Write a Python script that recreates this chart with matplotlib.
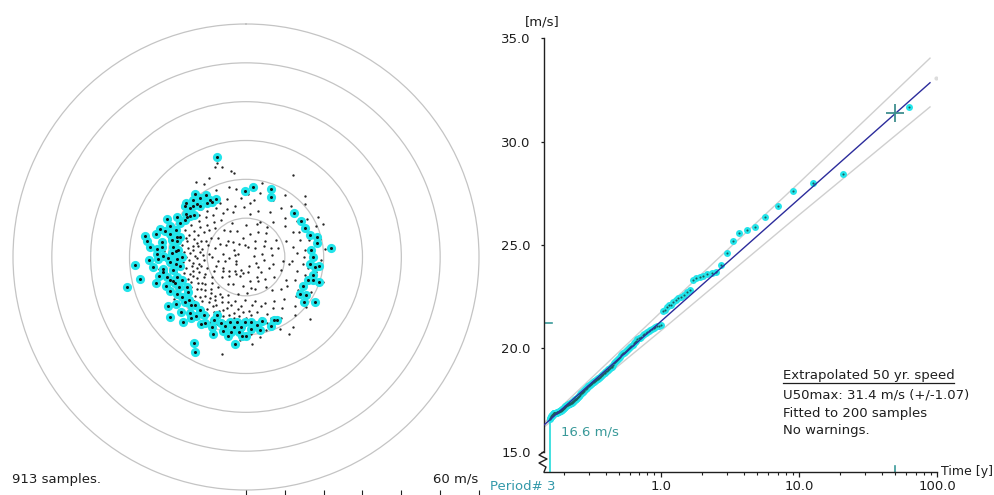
import numpy as np
import matplotlib
matplotlib.use("Agg")
import matplotlib.pyplot as plt
from matplotlib.lines import Line2D

plt.rcParams['font.family'] = ['DejaVu Sans']
plt.rcParams['font.size'] = 9.5

W, H = 995, 495
TXT = '#1e1e1e'
TEAL = '#3a9a9a'
CYAN = '#22e4ea'

# --- 1. POLAR SCATTER DATA: (direction deg from north, speed m/s) ---
sample_points = [
    # N
    (350, 22.5), (352, 21.8), (346, 18.5), (355, 15.2), (2, 16.3), (8, 14.8), (12, 19.5), (15, 12.2),
    (5, 11.0), (358, 12.8), (348, 13.5), (342, 15.8), (338, 9.5), (0, 8.2), (18, 8.8), (10, 6.0),
    (350, 5.0), (344, 12.0), (12, 16.8), (4, 13.9), (352, 17.6), (341, 24.6), (343, 25.4), (30, 24.3),
    (335, 22.4), (345, 24.1),
    # NE
    (25, 16.2), (28, 13.0), (32, 18.8), (35, 15.5), (38, 11.5), (42, 17.5), (45, 14.2), (48, 20.3),
    (52, 12.8), (55, 16.0), (58, 18.6), (62, 13.8), (65, 15.2), (68, 11.2), (22, 9.6), (40, 8.2),
    (50, 6.5), (60, 9.0), (30, 4.8), (66, 19.8), (44, 22.0), (61, 21.2), (67, 21.6),
    # E
    (72, 14.5), (75, 16.8), (78, 12.5), (80, 18.0), (83, 15.3), (85, 13.2), (88, 17.5), (90, 15.0),
    (92, 19.2), (95, 12.0), (97, 14.8), (100, 16.2), (102, 18.5), (105, 13.5), (107, 15.8), (108, 20.8),
    (74, 8.5), (86, 6.8), (96, 9.5), (104, 7.2), (80, 4.2), (93, 16.8), (99, 11.2), (76, 19.6), (84, 20.5),
    # SE
    (112, 17.2), (115, 14.0), (118, 19.0), (120, 11.8), (122, 15.8), (125, 13.0), (128, 16.5), (130, 20.2),
    (132, 12.2), (135, 17.8), (138, 14.6), (140, 19.5), (142, 10.8), (145, 16.0), (148, 13.5), (150, 18.0),
    (152, 15.0), (155, 20.5), (157, 12.8), (158, 17.0), (116, 6.5), (126, 8.8), (136, 5.5), (146, 9.2),
    (154, 7.0), (134, 22.8), (146, 21.6), (151, 22.7),
    # S
    (160, 15.5), (162, 17.8), (163, 13.2), (165, 19.5), (166, 16.2), (168, 11.5), (169, 14.5), (170, 18.2),
    (172, 16.8), (173, 12.5), (175, 15.0), (176, 19.8), (177, 13.8), (178, 17.2), (180, 15.8), (181, 11.0),
    (182, 18.5), (183, 14.2), (184, 16.5), (185, 20.2), (186, 12.8), (187, 15.2), (188, 17.5), (189, 13.5),
    (190, 19.0), (191, 16.0), (192, 14.8), (193, 18.0), (194, 11.8), (195, 16.8), (196, 15.5), (197, 13.0),
    (198, 17.6), (199, 19.5), (200, 14.0), (164, 8.5), (171, 6.2), (178, 9.2), (186, 7.5), (192, 9.8),
    (198, 5.2), (174, 3.8), (184, 21.5), (170, 21.0), (194, 25.8), (176, 22.5),
    # SW
    (201, 16.2), (202, 12.5), (203, 18.8), (204, 14.8), (205, 17.0), (206, 10.8), (207, 15.5), (208, 13.2),
    (209, 19.2), (210, 16.5), (211, 12.0), (212, 14.5), (213, 17.8), (214, 15.2), (215, 11.5), (216, 13.8),
    (217, 16.8), (218, 18.5), (219, 12.8), (220, 15.0), (221, 14.0), (222, 17.2), (223, 10.5), (224, 13.0),
    (225, 16.0), (226, 18.2), (227, 14.6), (228, 12.2), (229, 15.8), (230, 17.5), (231, 13.5), (232, 11.0),
    (233, 16.5), (234, 14.2), (235, 18.8), (236, 12.6), (237, 15.0), (238, 17.0), (239, 13.2), (240, 10.2),
    (241, 16.2), (242, 14.0), (243, 18.0), (244, 12.0), (245, 15.5), (246, 17.2), (247, 13.6), (248, 11.4),
    (249, 16.0), (250, 14.5), (206, 7.8), (214, 8.5), (222, 6.5), (230, 8.2), (238, 7.0), (246, 9.0),
    (218, 4.5), (236, 3.2), (212, 21.0), (226, 20.8), (240, 21.5), (204, 20.5),
    # W
    (251, 17.8), (252, 12.8), (253, 15.2), (254, 10.5), (255, 14.0), (256, 16.5), (257, 13.0), (258, 18.5),
    (259, 11.8), (260, 15.8), (261, 14.2), (262, 12.2), (263, 17.0), (264, 13.6), (265, 16.2), (266, 10.8),
    (267, 14.8), (268, 18.2), (269, 12.5), (270, 15.5), (271, 13.2), (272, 17.2), (273, 11.2), (274, 14.5),
    (275, 16.0), (276, 12.0), (277, 18.8), (278, 13.8), (279, 15.0), (280, 11.5), (281, 16.8), (282, 14.0),
    (283, 12.8), (284, 17.5), (285, 15.6), (286, 13.0), (287, 10.2), (288, 16.2), (289, 14.2), (290, 12.4),
    (254, 8.0), (262, 7.2), (270, 8.8), (278, 6.0), (286, 8.4), (266, 4.5), (258, 20.8), (274, 21.2),
    (284, 20.5), (262, 22.5),
    # NW
    (291, 15.8), (292, 11.0), (294, 17.2), (295, 13.5), (297, 15.0), (298, 10.2), (300, 16.5), (301, 12.5),
    (303, 14.2), (305, 17.8), (306, 11.8), (308, 15.2), (310, 13.0), (312, 16.2), (313, 10.8), (315, 14.5),
    (317, 17.0), (318, 12.2), (320, 15.5), (322, 13.6), (324, 18.5), (326, 11.5), (328, 14.8), (330, 16.8),
    (332, 12.8), (334, 15.5), (336, 19.0), (338, 13.2), (296, 7.5), (304, 8.8), (312, 6.2), (320, 9.0),
    (328, 7.8), (300, 3.5), (316, 20.5), (308, 21.0), (330, 21.8), (326, 23.2),
    # light winds
    (10, 2.5), (45, 3.2), (80, 2.0), (120, 3.0), (160, 2.4), (200, 3.5), (250, 2.8), (290, 2.2),
    (330, 3.8), (60, 5.5), (100, 4.8), (140, 7.5), (190, 4.2), (230, 5.8), (280, 3.0), (320, 5.2),
    (25, 7.2), (70, 6.8), (110, 9.5), (170, 8.0), (210, 5.0), (260, 5.5), (300, 6.0), (340, 7.0),
    (355, 3.0), (35, 9.5), (130, 4.0), (150, 5.8), (245, 6.5), (275, 9.6),
]

storm_points = [
    (344, 26.9), (359, 17.1), (6, 18.2), (20, 18.5), (23, 16.8), (47, 16.8), (57, 16.8), (64, 16.9),
    (71, 17.3), (74, 18.9), (79, 18.7), (84, 22.0), (84, 16.8), (90, 17.2), (96, 16.6), (98, 17.9),
    (97, 19.0), (105, 17.8), (110, 17.1), (109, 18.3), (109, 19.9), (117, 16.6), (124, 16.9), (122, 18.3),
    (128, 18.9), (123, 21.1), (154, 18.0), (156, 17.8),
    (166, 17.1), (171, 17.7), (176, 16.7), (181, 16.7), (184, 18.0), (188, 16.8), (190, 18.2), (191, 19.6),
    (193, 21.0), (187, 22.6), (183, 20.5), (180, 20.4), (185, 19.3), (197, 18.7), (201, 18.3), (207, 18.3),
    (207, 16.7), (206, 20.0), (212, 20.1), (216, 18.5), (221, 18.1), (227, 18.0), (229, 18.7), (225, 20.5),
    (220, 19.9), (233, 18.5), (224, 23.2), (211, 25.8), (208, 27.8),
    (238, 23.6), (232, 24.9), (254, 24.0), (258, 27.8), (266, 28.6), (256, 31.7), (264, 24.0), (269, 22.6),
    (271, 21.3), (269, 20.0), (273, 19.2), (275, 23.1), (277, 21.9), (276, 24.9), (282, 26.6), (279, 25.9),
    (288, 23.3), (288, 22.0), (287, 20.5), (283, 19.6), (278, 18.9), (283, 18.3), (287, 17.8), (291, 19.2),
    (297, 19.1), (301, 18.4), (306, 19.0), (311, 19.1), (310, 20.4), (317, 20.0), (321, 21.0), (322, 19.2),
    (327, 19.1), (324, 17.1), (328, 17.4), (333, 16.9), (328, 16.7), (317, 18.5), (309, 17.3), (306, 17.8),
    (276, 17.5), (270, 16.6), (268, 17.9), (262, 17.2), (260, 19.0), (254, 18.6), (250, 17.6), (246, 19.0),
    (242, 20.2), (238, 19.5), (234, 19.5), (243, 17.1), (239, 17.3), (256, 21.0), (260, 21.6), (253, 20.5),
    (250, 19.5),
    (262, 21.5), (266, 19.5), (272, 23.0), (280, 22.0), (284, 24.0), (268, 25.0), (258, 23.0), (250, 22.0),
    (246, 21.5), (252, 19.8), (264, 18.2), (275, 18.0), (286, 18.5), (292, 21.0), (296, 22.5), (300, 20.5),
    (304, 18.2), (314, 18.8), (318, 17.8), (312, 20.8), (236, 21.8), (230, 22.0), (222, 21.0), (214, 20.8),
    (203, 21.5), (197, 20.0), (194, 17.2), (176, 18.5), (169, 19.2), (160, 18.8),
]

ring_speeds = [10, 20, 30, 40, 50]
scale_speeds = [0, 10, 20, 30, 40, 50, 60]
max_ring = 60
n_samples = 913

# --- 2. EXTREME VALUE DATA (200 storm peaks, largest first) ---
storm_speeds = [
    31.66, 28.44, 27.98, 27.63, 26.90, 26.37, 25.89, 25.73, 25.60, 25.21,
    24.60, 24.03, 23.71, 23.66, 23.58, 23.52, 23.47, 23.39, 23.31, 22.82,
    22.74, 22.58, 22.50, 22.45, 22.34, 22.22, 22.10, 22.08, 22.02, 21.85,
    21.80, 21.13, 21.10, 21.06, 21.02, 20.97, 20.93, 20.88, 20.84, 20.78,
    20.74, 20.69, 20.63, 20.57, 20.52, 20.48, 20.43, 20.38, 20.30, 20.25,
    20.18, 20.12, 20.06, 20.00, 19.96, 19.92, 19.88, 19.84, 19.80, 19.76,
    19.72, 19.68, 19.60, 19.55, 19.50, 19.45, 19.40, 19.35, 19.28, 19.22,
    19.16, 19.11, 19.08, 19.05, 19.02, 18.99, 18.96, 18.93, 18.90, 18.86,
    18.83, 18.80, 18.76, 18.73, 18.70, 18.66, 18.63, 18.60, 18.58, 18.56,
    18.53, 18.51, 18.48, 18.46, 18.44, 18.41, 18.38, 18.36, 18.33, 18.31,
    18.28, 18.26, 18.24, 18.22, 18.20, 18.18, 18.16, 18.14, 18.10, 18.08,
    18.05, 18.02, 17.99, 17.96, 17.93, 17.90, 17.88, 17.86, 17.84, 17.82,
    17.80, 17.76, 17.72, 17.69, 17.66, 17.63, 17.60, 17.58, 17.56, 17.55,
    17.54, 17.53, 17.51, 17.49, 17.47, 17.45, 17.43, 17.41, 17.39, 17.37,
    17.36, 17.35, 17.34, 17.33, 17.32, 17.31, 17.30, 17.29, 17.28, 17.27,
    17.26, 17.24, 17.22, 17.20, 17.19, 17.17, 17.15, 17.14, 17.12, 17.10,
    17.09, 17.07, 17.06, 17.04, 17.03, 17.01, 17.00, 16.99, 16.98, 16.97,
    16.96, 16.95, 16.94, 16.93, 16.92, 16.91, 16.90, 16.90, 16.89, 16.88,
    16.88, 16.87, 16.87, 16.86, 16.86, 16.86, 16.86, 16.85, 16.85, 16.84,
    16.82, 16.80, 16.78, 16.76, 16.74, 16.71, 16.69, 16.66, 16.63, 16.60,
]
record_years = 31.5          # plotting position T = years / (rank - 0.5)

fit_T = [0.143, 89.0]
fit_U = [16.3, 32.85]
band_T = [0.143, 1.0, 10.0, 89.0]
band_hi = [16.4, 21.75, 28.0, 34.04]
band_lo = [16.2, 20.85, 26.45, 31.68]
u50_T, u50, u50_err = 50, 31.4, 1.07
mean_mark = 21.25
end_T, end_U = 98.4, 33.1

x_major = [1, 10, 100]
x_major_labels = ['1.0', '10.0', '100.0']
y_major = [15, 20, 25, 30, 35]
y_major_labels = ['15.0', '20.0', '25.0', '30.0', '35.0']

fig = plt.figure(figsize=(W / 100, H / 100), dpi=100)

# --- 3. POLAR PANEL ---
axp = fig.add_axes([13 / W, 5 / H, 466 / W, 466 / H], projection='polar')
axp.set_theta_zero_location('N')
axp.set_theta_direction(-1)
axp.set_ylim(0, max_ring)
axp.set_yticks(ring_speeds)
axp.set_yticklabels([])
axp.set_xticks([])
axp.tick_params(axis='both', length=0)
axp.yaxis.grid(True, color='#c4c4c4', lw=0.9)
for gl in axp.yaxis.get_gridlines():
    gl.set_solid_capstyle('butt')
axp.spines['polar'].set_color('#c4c4c4')
axp.spines['polar'].set_linewidth(0.9)

sp = np.array(sample_points, dtype=float)
st = np.array(storm_points, dtype=float)
axp.plot(np.deg2rad(sp[:, 0]), sp[:, 1], 'o', ms=1.7, color='#262626', mec='none', zorder=3)
axp.plot(np.deg2rad(st[:, 0]), st[:, 1], 'o', ms=6.6, color=CYAN, mec='none', zorder=4)
axp.plot(np.deg2rad(st[:, 0]), st[:, 1], 'o', ms=2.2, color='#111111', mec='none', zorder=5)

fig.text(12 / W, 1 - 479 / H, f'{n_samples} samples.', ha='left', va='center', color=TXT)
fig.text(478 / W, 1 - 479 / H, f'{max_ring} m/s', ha='right', va='center', color=TXT)

# speed scale ticks under the rose (mostly below the frame)
axs = fig.add_axes([246 / W, -0.03, 233 / W, 0.02])
axs.set_xlim(0, max_ring)
axs.set_xticks(scale_speeds)
axs.tick_params(axis='x', top=True, bottom=False, labeltop=False, labelbottom=False,
                direction='out', length=7.2, width=0.8, color='#202020')
axs.set_yticks([])
for s in axs.spines.values():
    s.set_visible(False)
axs.patch.set_visible(False)

# --- 4. EXTREME VALUE PANEL ---
ax = fig.add_axes([544 / W, 1 - 472 / H, 393 / W, 433.7 / H])
ax.set_xscale('log')
ax.set_xlim(0.1426, 100)
ax.set_ylim(14.02, 35)

U = np.array(storm_speeds)
rank = np.arange(1, len(U) + 1)
T = record_years / (rank - 0.5)

ax.plot(band_T, band_hi, color='#cfcfcf', lw=1, zorder=1)
ax.plot(band_T, band_lo, color='#cfcfcf', lw=1, zorder=1)
ax.plot(end_T, end_U, 'o', ms=3, color='#dcdcdc', mec='none', zorder=1)
ax.vlines(T[-1], 14.02, U[-1], colors='#35dede', lw=1.3, zorder=2)
ax.plot(T, U, 'o', ms=5.0, color=CYAN, mec='none', zorder=3)
ax.plot(T, U, 'o', ms=1.5, color='#1d5a5a', mec='none', zorder=4)
ax.plot(fit_T, fit_U, color='#2c2c9c', lw=1, zorder=5)
ax.plot(u50_T, u50, marker='+', ms=13, mew=1.3, color='#3f8f8f', zorder=6)

ax.axvline(u50_T, ymin=0, ymax=6 / 433.7, color=TEAL, lw=1.2, clip_on=False)
ax.axhline(mean_mark, xmin=0, xmax=8 / 393, color=TEAL, lw=1.2)

ax.annotate(f'{U[-1]:.1f} m/s', xy=(T[-1], U[-1]), xytext=(7.5, -9.3),
            textcoords='offset points', ha='left', va='center', color=TEAL)

for side in ['top', 'right']:
    ax.spines[side].set_visible(False)
for side in ['left', 'bottom']:
    ax.spines[side].set_color('#202020')
    ax.spines[side].set_linewidth(1)
ax.spines['left'].set_bounds(15, 35)

# axis break zig-zag
zx = np.array([0, -5, 3, -5, 2, 0]) / 393
zy = (472 - np.array([451.7, 455, 459, 463, 467, 472])) / 433.7
ax.plot(zx, zy, color='#202020', lw=1, transform=ax.transAxes, clip_on=False)

ax.set_yticks(y_major)
ax.set_yticklabels(y_major_labels)
ax.set_xticks(x_major)
ax.set_xticklabels(x_major_labels)
minor = (np.arange(2, 10)[None, :] * np.array([0.1, 1, 10])[:, None]).ravel()
ax.set_xticks(minor, minor=True)
ax.xaxis.set_minor_formatter(plt.NullFormatter())
ax.tick_params(axis='y', direction='out', length=2.5, width=0.9, pad=7, colors=TXT)
ax.tick_params(axis='x', which='major', direction='out', length=3.6, width=0.9, pad=2.5, colors=TXT)
ax.tick_params(axis='x', which='minor', direction='out', length=2.2, width=0.8, colors=TXT)

ax.text((525 - 544) / 393, (472 - 22) / 433.7, '[m/s]', transform=ax.transAxes,
        ha='left', va='center', color=TXT)
ax.text((941 - 544) / 393, 0, 'Time [y]', transform=ax.transAxes,
        ha='left', va='center', color=TXT, fontsize=9)
ax.text((490 - 544) / 393, (472 - 487) / 433.7, 'Period# 3', transform=ax.transAxes,
        ha='left', va='center', color='#3399aa', clip_on=False)

# result box
lines = ['Extrapolated 50 yr. speed',
         f'U50max: {u50} m/s (+/-{u50_err})',
         f'Fitted to {len(U)} samples',
         'No warnings.']
line_y = [375.7, 395, 413.3, 430.7]
texts = [fig.text(782.7 / W, 1 - y / H, s, ha='left', va='center', color=TXT)
         for s, y in zip(lines, line_y)]
fig.canvas.draw()
bb = texts[0].get_window_extent()
fig.add_artist(Line2D([bb.x0 / W, bb.x1 / W], [1 - 383 / H, 1 - 383 / H],
                      color=TXT, lw=0.9))

fig.savefig('out.png', dpi=100)
